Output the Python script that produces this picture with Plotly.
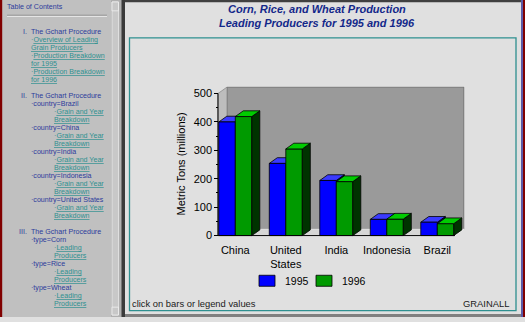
import plotly.graph_objects as go

# ---------------- data ----------------
categories = ["China", "United States", "India", "Indonesia", "Brazil"]
years = ["1995", "1996"]
prod_1995 = [400, 254, 194, 57, 47]
prod_1996 = [419, 305, 190, 58, 42]
y_ticks = [0, 100, 200, 300, 400, 500]
y_minor = [50, 150, 250, 350, 450]

title_lines = ["Corn, Rice, and Wheat Production", "Leading Producers for 1995 and 1996"]
y_title = "Metric Tons (millions)"
footer_left = "click on bars or legend values"
footer_right = "GRAINALL"

# table of contents: (kind, indent level, text, y pixel)
toc_items = [
    ("num", "I.", "The Gchart Procedure", 32.7),
    ("link", 1, "Overview of Leading", 41.0),
    ("cont", 1, "Grain Producers", 48.9),
    ("link", 1, "Production Breakdown", 57.0),
    ("cont", 1, "for 1995", 65.0),
    ("link", 1, "Production Breakdown", 73.0),
    ("cont", 1, "for 1996", 81.0),
    ("num", "II.", "The Gchart Procedure", 97.7),
    ("item", 1, "country=Brazil", 105.7),
    ("link", 2, "Grain and Year", 113.8),
    ("cont", 2, "Breakdown", 121.9),
    ("item", 1, "country=China", 130.0),
    ("link", 2, "Grain and Year", 138.1),
    ("cont", 2, "Breakdown", 146.2),
    ("item", 1, "country=India", 154.3),
    ("link", 2, "Grain and Year", 162.5),
    ("cont", 2, "Breakdown", 170.6),
    ("item", 1, "country=Indonesia", 178.7),
    ("link", 2, "Grain and Year", 186.8),
    ("cont", 2, "Breakdown", 194.9),
    ("item", 1, "country=United States", 203.0),
    ("link", 2, "Grain and Year", 211.1),
    ("cont", 2, "Breakdown", 219.3),
    ("num", "III.", "The Gchart Procedure", 235.3),
    ("item", 1, "type=Corn", 243.6),
    ("link", 2, "Leading", 251.7),
    ("cont", 2, "Producers", 259.8),
    ("item", 1, "type=Rice", 268.0),
    ("link", 2, "Leading", 276.1),
    ("cont", 2, "Producers", 284.2),
    ("item", 1, "type=Wheat", 292.2),
    ("link", 2, "Leading", 300.3),
    ("cont", 2, "Producers", 308.4),
]

# ---------------- layout constants ----------------
W, H = 525, 322
FONT = "Liberation Sans, Arial, Helvetica, sans-serif"


def px(x):
    return x / W


def py(y):
    return 1 - y / H


# chart geometry (pixels)
X0_PX = 235.3          # centre of first category
X_UNIT = 50.5          # pixels per category
Y0_PX = 239.3          # pixel of value 0
Y_UNIT = 144.3 / 500   # pixels per unit value

BAR_W = 0.327
X_AXIS_L = -0.343
X_FRONT_R = 4.35
WDX, WDY = 9 / X_UNIT, 6.5 / Y_UNIT     # wall depth
BDX, BDY = 8 / X_UNIT, 5.8 / Y_UNIT     # bar depth
Y_TOP = 500

x_range = [-0.38, X_FRONT_R + WDX + 0.01]
y_range = [-4, Y_TOP + WDY + 2]
x_dom = [(X0_PX + x_range[0] * X_UNIT) / W, (X0_PX + x_range[1] * X_UNIT) / W]
y_dom = [py(Y0_PX - y_range[0] * Y_UNIT), py(Y0_PX - y_range[1] * Y_UNIT)]

BLUE, BLUE_TOP, BLUE_SIDE = "#0000ff", "#3a3aff", "#000070"
GREEN, GREEN_TOP, GREEN_SIDE = "#009a00", "#00cc00", "#003300"

fig = go.Figure()
series = [(prod_1995, years[0], BLUE, -BAR_W), (prod_1996, years[1], GREEN, 0.0)]
for vals, name, col, off in series:
    fig.add_trace(go.Bar(
        x=list(range(len(categories))), y=vals, name=name, width=BAR_W, offset=off,
        marker=dict(color=col, line=dict(color="black", width=0.8)),
        hoverinfo="x+y", showlegend=False,
    ))

shapes = []


def prect(x0, y0, x1, y1, fill, line=None, lw=0, layer="below"):
    shapes.append(dict(type="rect", xref="paper", yref="paper", x0=px(x0), x1=px(x1),
                       y0=py(y1), y1=py(y0), fillcolor=fill, layer=layer,
                       line=dict(width=lw, color=line or fill)))


prect(0, 0, 112, 322, "#c0c0c0")            # left frame
prect(0, 0, 2.2, 322, "#800000")            # left red strip
prect(111, 0, 122, 322, "#b0b0b0")          # scrollbar track
prect(112, 2, 118.5, 320, "#c8c8c8", "#e8e8e8", 0.8)   # scrollbar thumb
prect(112, 2, 118.5, 11, "#c8c8c8", "#f0f0f0", 0.8)    # arrow box up
prect(112, 312, 118.5, 320, "#c8c8c8", "#f0f0f0", 0.8) # arrow box down
prect(121.5, 0, 125, 322, "#3a3a3a")        # divider
prect(125, 0, 521, 2.2, "#404040")          # top border right frame
prect(125, 319, 521, 322, "#808080")        # bottom border
prect(521, 0, 523, 322, "#5a5aa8")          # right blue line
prect(523, 0, 525, 322, "#800000")          # right red strip
prect(129.5, 38.5, 516, 315.5, "rgba(0,0,0,0)", "#2e9090", 1.3)  # teal box
# TOC separator
shapes.append(dict(type="line", xref="paper", yref="paper", x0=px(7), x1=px(107),
                   y0=py(15.5), y1=py(15.5), line=dict(color="#8a8a8a", width=1), layer="below"))
shapes.append(dict(type="line", xref="paper", yref="paper", x0=px(7), x1=px(107),
                   y0=py(16.6), y1=py(16.6), line=dict(color="#ececec", width=1), layer="below"))


def dpath(pts, fill, line="black", lw=0.8, layer="below"):
    p = "M " + " L ".join(f"{x},{y}" for x, y in pts) + " Z"
    shapes.append(dict(type="path", xref="x", yref="y", path=p, fillcolor=fill,
                       line=dict(color=line, width=lw), layer=layer))


# 3D walls
xl, xr = X_AXIS_L, X_FRONT_R
dpath([(xl + WDX, WDY), (xr + WDX, WDY), (xr + WDX, Y_TOP + WDY), (xl + WDX, Y_TOP + WDY)],
      "#9a9a9a", "#6e6e6e", 1)
dpath([(xl, 0), (xl, Y_TOP), (xl + WDX, Y_TOP + WDY), (xl + WDX, WDY)], "#bdbdbd", "#8a8a8a", 0.8)
dpath([(xl, 0), (xr, 0), (xr + WDX, WDY), (xl + WDX, WDY)], "#d6d6d6", "#f4f4f4", 0.8)

# 3D faces of bars
for vals, name, col, off in series:
    top_c, side_c = (BLUE_TOP, BLUE_SIDE) if col == BLUE else (GREEN_TOP, GREEN_SIDE)
    layer = "below" if col == BLUE else "above"
    for i, v in enumerate(vals):
        x0 = i + off
        x1 = x0 + BAR_W
        dpath([(x1, 0), (x1, v), (x1 + BDX, v + BDY), (x1 + BDX, BDY)], side_c, layer=layer)
        dpath([(x0, v), (x0 + BDX, v + BDY), (x1 + BDX, v + BDY), (x1, v)], top_c, layer=layer)

# axis lines
shapes.append(dict(type="line", xref="x", yref="y", x0=xl, x1=xl, y0=0, y1=Y_TOP,
                   line=dict(color="black", width=1), layer="above"))
shapes.append(dict(type="line", xref="x", yref="y", x0=xl, x1=xr, y0=0, y1=0,
                   line=dict(color="black", width=1), layer="above"))

annotations = []
NAVY = "#2c3c9c"
TEAL = "#2f9090"
TITLE_C = "#13288a"
toc_font = 7.1


def ann(x, y, text, size, color, xanchor="left", **kw):
    annotations.append(dict(xref="paper", yref="paper", x=px(x), y=py(y), text=text,
                            showarrow=False, xanchor=xanchor, yanchor="middle",
                            borderpad=0, font=dict(family=FONT, size=size, color=color), **kw))


# legend (drawn manually to match the boxed swatches)
LEG_X = [259, 316]
LEG_Y = 285.2
for (vals, name, col, off), lx in zip(series, LEG_X):
    prect(lx, LEG_Y - 5.6, lx + 16, LEG_Y + 5.6, col, "#000000", 0.8, layer="above")
    ann(lx + 24.5, LEG_Y, name, 10.5, "black")

ann(6.2, 7.5, "Table of Contents", toc_font, NAVY)
indent = {1: 29.5, 2: 52.8}
for kind, a, text, y in toc_items:
    if kind == "num":
        ann(27.6, y, a, toc_font, NAVY, xanchor="right")
        ann(29.8, y, text, toc_font, NAVY)
    elif kind == "item":
        ann(indent[a], y, "·" + text, toc_font, NAVY)
    elif kind == "link":
        ann(indent[a], y, "·<u>" + text + "</u>", toc_font, TEAL)
    else:
        ann(indent[a], y, "<u>" + text + "</u>", toc_font, TEAL)

for i, t in enumerate(title_lines):
    ann(316.7, 9.2 + 14.2 * i, "<b><i>" + t + "</i></b>", 11, TITLE_C, xanchor="center")

ann(180.5, 166.5, y_title, 11, "black", xanchor="center", textangle=-90)
ann(130.5, 308.3, footer_left, 9.4, "#202020")
ann(509.5, 308.3, footer_right, 9.4, "#202020", xanchor="right")

fig.update_layout(
    width=W, height=H, margin=dict(l=0, r=0, t=0, b=0),
    paper_bgcolor="#e0e0e0", plot_bgcolor="rgba(0,0,0,0)",
    barmode="overlay", shapes=shapes, annotations=annotations,
    font=dict(family=FONT, color="black"),
    showlegend=False,
    xaxis=dict(domain=x_dom, range=x_range, tickvals=list(range(len(categories))),
               ticktext=[c.replace(" ", "<br>") for c in categories], ticks="",
               ticklabelstandoff=5,
               showgrid=False, zeroline=False, showline=False, fixedrange=True,
               tickfont=dict(family=FONT, size=11, color="black")),
    yaxis=dict(domain=y_dom, range=y_range, tickvals=y_ticks, ticks="outside", ticklen=4,
               tickcolor="black", tickwidth=1, anchor="free", position=px(218.3),
               showgrid=False, zeroline=False, showline=False, fixedrange=True,
               tickfont=dict(family=FONT, size=11, color="black"),
               minor=dict(tickvals=y_minor, ticks="outside", ticklen=2, tickcolor="black",
                          showgrid=False)),
)

fig.write_html("out.html", config={"displayModeBar": False})
